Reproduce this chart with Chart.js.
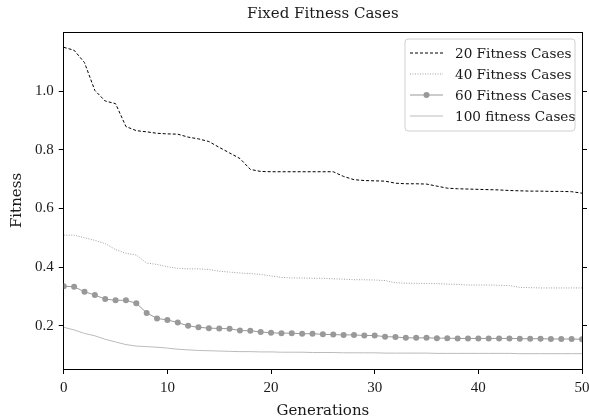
<!DOCTYPE html>
<html>
<head>
<meta charset="utf-8">
<script src="https://cdn.jsdelivr.net/npm/chart.js@4"></script>
<style>
  html, body { margin: 0; padding: 0; background: #fff; }
  #wrap { width: 589px; height: 420px; }
</style>
</head>
<body>
<div id="wrap"><canvas id="myChart"></canvas></div>
<script>
const generations = [0, 1, 2, 3, 4, 5, 6, 7, 8, 9, 10, 11, 12, 13, 14, 15, 16, 17, 18, 19, 20,
  21, 22, 23, 24, 25, 26, 27, 28, 29, 30, 31, 32, 33, 34, 35, 36, 37, 38, 39, 40,
  41, 42, 43, 44, 45, 46, 47, 48, 49, 50];

const fit20 = [1.149, 1.139, 1.097, 1.002, 0.966, 0.957, 0.879, 0.865, 0.861, 0.856,
  0.854, 0.853, 0.843, 0.837, 0.828, 0.808, 0.789, 0.770, 0.733, 0.726,
  0.725, 0.725, 0.725, 0.725, 0.725, 0.725, 0.725, 0.709, 0.698, 0.695,
  0.694, 0.693, 0.686, 0.684, 0.684, 0.683, 0.676, 0.669, 0.667, 0.666,
  0.665, 0.664, 0.663, 0.661, 0.660, 0.659, 0.659, 0.658, 0.658, 0.657, 0.652];

const fit40 = [0.509, 0.509, 0.500, 0.491, 0.480, 0.460, 0.447, 0.441, 0.414, 0.409,
  0.401, 0.396, 0.394, 0.394, 0.392, 0.386, 0.383, 0.380, 0.378, 0.375,
  0.370, 0.365, 0.363, 0.363, 0.362, 0.362, 0.360, 0.359, 0.357, 0.357,
  0.356, 0.354, 0.347, 0.345, 0.345, 0.344, 0.344, 0.342, 0.341, 0.339,
  0.339, 0.339, 0.338, 0.337, 0.331, 0.330, 0.329, 0.329, 0.329, 0.329, 0.329];

const fit60 = [0.335, 0.333, 0.316, 0.305, 0.291, 0.287, 0.287, 0.277, 0.244, 0.225,
  0.220, 0.211, 0.200, 0.195, 0.192, 0.191, 0.190, 0.184, 0.183, 0.179,
  0.176, 0.175, 0.175, 0.173, 0.173, 0.171, 0.170, 0.169, 0.169, 0.167,
  0.167, 0.163, 0.162, 0.159, 0.159, 0.159, 0.158, 0.158, 0.157, 0.157,
  0.157, 0.157, 0.157, 0.157, 0.156, 0.156, 0.156, 0.155, 0.155, 0.155, 0.154];

const fit100 = [0.195, 0.186, 0.174, 0.166, 0.154, 0.145, 0.136, 0.131, 0.129, 0.127,
  0.124, 0.120, 0.118, 0.116, 0.115, 0.114, 0.113, 0.112, 0.112, 0.111,
  0.111, 0.110, 0.110, 0.110, 0.109, 0.109, 0.109, 0.108, 0.108, 0.108,
  0.108, 0.107, 0.107, 0.107, 0.107, 0.107, 0.106, 0.106, 0.106, 0.106,
  0.106, 0.106, 0.106, 0.106, 0.105, 0.105, 0.105, 0.105, 0.105, 0.105, 0.105];

const seriesNames = ["20 Fitness Cases", "40 Fitness Cases", "60 Fitness Cases", "100 fitness Cases"];
const yTicks = [0.2, 0.4, 0.6, 0.8, 1.0];
const xTicks = [0, 10, 20, 30, 40, 50];

const NUMFONT = "'Liberation Serif', serif";
const WORDFONT = "'DejaVu Serif', serif";
const INK = "#1a1a1a";

const pts = vals => generations.map((g, i) => ({x: g, y: vals[i]}));

// legend drawn inside the plot, upper right, matplotlib style
const boxLegend = {
  id: "boxLegend",
  afterDraw(chart) {
    const ctx = chart.ctx, a = chart.chartArea;
    const w = 170, h = 92, rowH = 21;
    const x0 = a.right - 7 - w, y0 = a.top + 7;
    ctx.save();
    ctx.beginPath();
    ctx.roundRect(x0, y0, w, h, 3);
    ctx.fillStyle = "rgba(255,255,255,0.8)";
    ctx.fill();
    ctx.strokeStyle = "#d0d0d0";
    ctx.lineWidth = 1;
    ctx.stroke();
    ctx.font = "13.6px " + WORDFONT;
    ctx.textBaseline = "middle";
    chart.data.datasets.forEach((ds, i) => {
      const cy = y0 + 14 + i * rowH;
      ctx.beginPath();
      ctx.setLineDash(ds.borderDash || []);
      ctx.strokeStyle = ds.borderColor;
      ctx.lineWidth = ds.borderWidth;
      ctx.moveTo(x0 + 5, cy);
      ctx.lineTo(x0 + 38, cy);
      ctx.stroke();
      ctx.setLineDash([]);
      if (ds.pointRadius > 0) {
        ctx.beginPath();
        ctx.arc(x0 + 21.5, cy, ds.pointRadius, 0, Math.PI * 2);
        ctx.fillStyle = ds.pointBackgroundColor;
        ctx.fill();
      }
      ctx.fillStyle = INK;
      ctx.fillText(ds.label, x0 + 50, cy + 1);
    });
    ctx.restore();
  }
};

const fixTicks = list => scale => { scale.ticks = list.map(v => ({value: v})); };

new Chart("myChart", {
  type: "line",
  data: {
    datasets: [
      {label: seriesNames[0], data: pts(fit20), borderColor: "#000", borderWidth: 1,
       borderDash: [3, 2], pointRadius: 0, fill: false},
      {label: seriesNames[1], data: pts(fit40), borderColor: "#a0a0a0", borderWidth: 1,
       borderDash: [1, 1.5], pointRadius: 0, fill: false},
      {label: seriesNames[2], data: pts(fit60), borderColor: "#999", borderWidth: 1,
       pointRadius: 3, pointBackgroundColor: "#999", pointBorderColor: "#999", pointBorderWidth: 0, fill: false},
      {label: seriesNames[3], data: pts(fit100), borderColor: "#bbb", borderWidth: 1,
       pointRadius: 0, fill: false}
    ]
  },
  options: {
    responsive: true,
    maintainAspectRatio: false,
    animation: false,
    layout: {padding: {left: 8, right: 2, top: 0, bottom: 0}},
    plugins: {
      legend: {display: false},
      title: {display: false},
      tooltip: {enabled: false}
    },
    scales: {
      x: {
        type: "linear", min: 0, max: 50,
        afterBuildTicks: fixTicks(xTicks),
        afterFit: scale => { scale.paddingRight = 0; },
        ticks: {color: INK, font: {family: NUMFONT, size: 15}, padding: 5, maxRotation: 0},
        grid: {display: true, drawOnChartArea: false, drawTicks: true, tickLength: 5, color: "#000"},
        border: {display: true, color: "#000", width: 1},
        title: {display: true, text: "Generations", color: INK, font: {family: WORDFONT, size: 15}, padding: {top: 0, bottom: 0}}
      },
      x2: {
        type: "linear", position: "top", min: 0, max: 50,
        ticks: {display: false},
        grid: {display: false, drawTicks: false},
        border: {display: true, color: "#000", width: 1},
        title: {display: true, text: "Fixed Fitness Cases", color: INK, font: {family: WORDFONT, size: 15}, padding: {top: 5, bottom: 9}}
      },
      y: {
        min: 0.0528, max: 1.2012,
        afterBuildTicks: fixTicks(yTicks),
        ticks: {color: INK, font: {family: NUMFONT, size: 15}, padding: 5, callback: v => v.toFixed(1)},
        grid: {display: true, drawOnChartArea: false, drawTicks: true, tickLength: 5, color: "#000"},
        border: {display: true, color: "#000", width: 1},
        title: {display: true, text: "Fitness", color: INK, font: {family: WORDFONT, size: 15}, padding: {top: 0, bottom: 4}}
      },
      y2: {
        position: "right", min: 0.0528, max: 1.2012,
        afterBuildTicks: fixTicks(yTicks),
        ticks: {display: false},
        grid: {display: true, drawOnChartArea: false, drawTicks: true, tickLength: 5, color: "#000"},
        border: {display: true, color: "#000", width: 1}
      }
    }
  },
  plugins: [boxLegend]
});
</script>
</body>
</html>
